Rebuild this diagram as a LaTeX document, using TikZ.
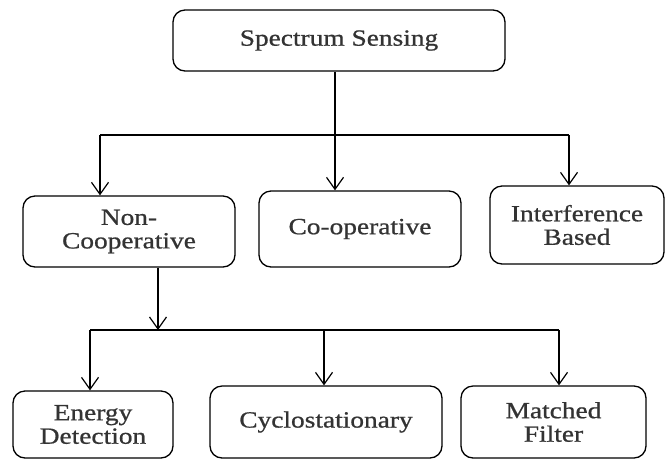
\documentclass[tikz,border=0pt]{standalone}
\usepackage{fontspec}
\setmainfont{Liberation Serif}[FakeStretch=1.18, FakeBold=0.8]
\usepackage{tikz}
\usetikzlibrary{positioning, arrows.meta}

\begin{document}
\begin{tikzpicture}[x=1pt, y=-1pt, >={Straight Barb[length=12pt,width=17pt]},
		box/.style={draw, rounded corners=12pt, line width=1.3pt, align=center,
			inner sep=0pt, font=\fontsize{23.2}{23.5}\selectfont, text=black!80},
		link/.style={line width=1.2pt}]
		\useasboundingbox (0,0) rectangle (666,459);

		% Root
		\node[box, minimum width=332pt, minimum height=61pt] (ss) at (339,40.5) {Spectrum Sensing};

		% First level
		\node[box, minimum width=212pt, minimum height=71pt] (noncoop) at (129,231.5) {Non-\\Cooperative};
		\node[box, minimum width=202pt, minimum height=76pt] (coop) at (360,229) {Co-operative};
		\node[box, minimum width=174pt, minimum height=78pt] (interf) at (577,225) {Interference\\Based};

		% Second level
		\node[box, minimum width=160pt, minimum height=67pt] (energy) at (93,424.5) {Energy\\Detection};
		\node[box, minimum width=232pt, minimum height=72pt] (cyclo) at (326,422) {Cyclostationary};
		\node[box, minimum width=185pt, minimum height=72pt] (matched) at (553.5,422) {Matched\\Filter};

		% Edges, first level
		\coordinate (busL) at (100,135);
		\coordinate (busM) at (335,135);
		\coordinate (busR) at (569,135);
		\draw[link] (ss.south -| busM) -- (busM);
		\draw[link] (busL) -- (busR);
		\draw[link, ->] (busL) -- (busL |- noncoop.north);
		\draw[link, ->] (busM) -- (busM |- coop.north);
		\draw[link, ->] (busR) -- (busR |- interf.north);

		% Edges, second level
		\coordinate (subL) at (90,330);
		\coordinate (subM) at (158,330);
		\coordinate (subC) at (324,330);
		\coordinate (subR) at (559,330);
		\draw[link, ->] (noncoop.south -| subM) -- (subM);
		\draw[link] (subL) -- (subR);
		\draw[link, ->] (subL) -- (subL |- energy.north);
		\draw[link, ->] (subC) -- (subC |- cyclo.north);
		\draw[link, ->] (subR) -- (subR |- matched.north);
	\end{tikzpicture}
\end{document}
